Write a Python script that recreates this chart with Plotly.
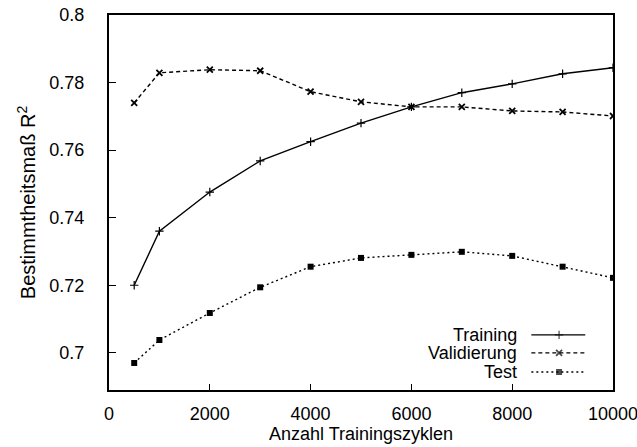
import plotly.graph_objects as go

# Training cycles and coefficient of determination for each data split
zyklen = [500, 1000, 2000, 3000, 4000, 5000, 6000, 7000, 8000, 9000, 10000]
r2_training = [0.720, 0.736, 0.7476, 0.7568, 0.7625, 0.768, 0.7728, 0.777, 0.7796, 0.7826, 0.7844]
r2_validierung = [0.774, 0.7829, 0.7838, 0.7835, 0.7773, 0.7743, 0.7728, 0.7728, 0.7716, 0.7713, 0.7701]
r2_test = [0.697, 0.7038, 0.7118, 0.7194, 0.7255, 0.7281, 0.729, 0.7299, 0.7287, 0.7255, 0.7222]

x_ticks = [0, 2000, 4000, 6000, 8000, 10000]
y_ticks = [0.70, 0.72, 0.74, 0.76, 0.78, 0.80]
y_tick_text = ["0.7", "0.72", "0.74", "0.76", "0.78", "0.8"]

FONT = "Liberation Sans, Arial, Helvetica, sans-serif"
INK = "black"

series = [
    ("Training", r2_training, "solid", dict(symbol="cross-thin", size=6, line=dict(width=1.2, color=INK), color=INK)),
    ("Validierung", r2_validierung, "4px,3px", dict(symbol="x-thin", size=6, line=dict(width=1.8, color=INK), color=INK)),
    ("Test", r2_test, "2px,3px", dict(symbol="square", size=6, color=INK, line=dict(width=0))),
]

fig = go.Figure()
for name, values, dash, marker in series:
    fig.add_trace(go.Scatter(
        x=zyklen, y=values, name=name, mode="lines+markers",
        line=dict(color=INK, width=1.4, dash=dash),
        marker=marker, showlegend=False,
    ))

# Legend drawn inside the plot: label on the left, line sample on the right
legend_rows = [0.147, 0.099, 0.048]
for (name, _, dash, marker), row in zip(series, legend_rows):
    m = dict(marker)
    m["size"] = [0, marker["size"], 0]
    fig.add_trace(go.Scatter(
        x=[0.838, 0.893, 0.945], y=[row, row, row], mode="lines+markers",
        xaxis="x2", yaxis="y2", showlegend=False, hoverinfo="skip",
        line=dict(color=INK, width=1.4, dash=dash), marker=m,
    ))
    fig.add_annotation(
        text=name, x=0.813, y=row, xref="paper", yref="paper",
        xanchor="right", yanchor="middle", showarrow=False,
        font=dict(family=FONT, size=18, color=INK),
    )

fig.update_layout(
    width=637, height=447,
    margin=dict(l=109, r=24, t=15, b=57),
    paper_bgcolor="white", plot_bgcolor="white",
    font=dict(family=FONT, size=18, color=INK),
    xaxis=dict(
        range=[0, 10000], tickvals=x_ticks, ticktext=[str(v) for v in x_ticks],
        ticks="inside", ticklen=6, tickwidth=1.2, tickcolor=INK,
        showline=True, linecolor=INK, linewidth=2, mirror=True,
        showgrid=False, zeroline=False, ticklabelstandoff=6,
        ticklabeloverflow="allow", automargin=False,
        title=dict(text="Anzahl Trainingszyklen", standoff=4, font=dict(size=18)),
    ),
    yaxis=dict(
        range=[0.689, 0.8], tickvals=y_ticks, ticktext=y_tick_text,
        ticks="inside", ticklen=7, tickwidth=1.2, tickcolor=INK,
        showline=True, linecolor=INK, linewidth=2, mirror=True,
        showgrid=False, zeroline=False, ticklabelstandoff=19,
        automargin=False,
        title=dict(text="Bestimmtheitsmaß R<sup>2</sup>", standoff=8, font=dict(size=20)),
    ),
    xaxis2=dict(overlaying="x", range=[0, 1], visible=False, fixedrange=True),
    yaxis2=dict(overlaying="y", range=[0, 1], visible=False, fixedrange=True),
)

fig.write_html("out.html")
